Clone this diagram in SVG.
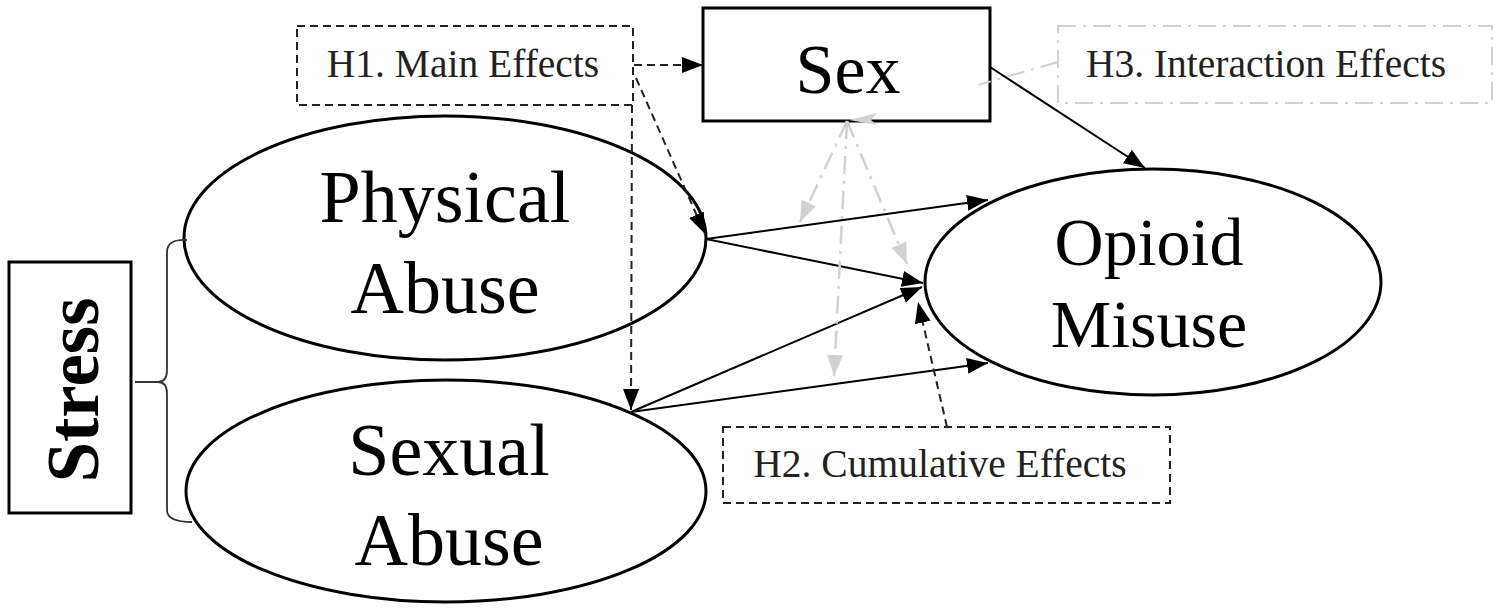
<svg xmlns="http://www.w3.org/2000/svg" width="1500" height="613" viewBox="0 0 1500 613">
<defs>
<style>
.big{font-family:"Liberation Serif","Times New Roman",serif;fill:#000;text-anchor:middle}
.hyp{font-family:"Liberation Serif","Times New Roman",serif;fill:#222;font-size:39.5px;text-anchor:middle}
.node{fill:none;stroke:#000;stroke-width:3}
.hbox{fill:none;stroke:#222;stroke-width:2;stroke-dasharray:8 5}
.gbox{fill:none;stroke:#d2d2d2;stroke-width:2;stroke-dasharray:18 7 3 7}
.solid{fill:none;stroke:#000;stroke-width:2;marker-end:url(#ah)}
.dash{fill:none;stroke:#222;stroke-width:2;stroke-dasharray:8 5;marker-end:url(#ah)}
.gray{fill:none;stroke:#d2d2d2;stroke-width:2.5;stroke-dasharray:18 7 3 7;marker-end:url(#gh)}
</style>
<marker id="ah" markerUnits="userSpaceOnUse" markerWidth="22" markerHeight="18" refX="21" refY="9" orient="auto">
<path d="M0,1 L21,9 L0,17 z" fill="#000"/>
</marker>
<marker id="gh" markerUnits="userSpaceOnUse" markerWidth="22" markerHeight="18" refX="21" refY="9" orient="auto">
<path d="M0,1 L21,9 L0,17 z" fill="#d2d2d2"/>
</marker>
</defs>
<rect width="1500" height="613" fill="#fff"/>

<g id="stress">
<rect class="node" x="9" y="262" width="122" height="251"/>
<text class="big" x="0" y="0" font-size="73" font-weight="bold" transform="translate(98,390) rotate(-90)">Stress</text>
</g>

<g id="physical">
<ellipse class="node" cx="445" cy="238" rx="261" ry="122"/>
<text class="big" x="445" y="222" font-size="74">Physical</text>
<text class="big" x="445" y="313" font-size="74">Abuse</text>
</g>

<g id="sexual">
<ellipse class="node" cx="446" cy="491" rx="260" ry="111"/>
<text class="big" x="449" y="475" font-size="74">Sexual</text>
<text class="big" x="449" y="565" font-size="74">Abuse</text>
</g>

<g id="opioid">
<ellipse class="node" cx="1153" cy="282" rx="228" ry="113"/>
<text class="big" x="1149" y="265" font-size="68">Opioid</text>
<text class="big" x="1149" y="347" font-size="68">Misuse</text>
</g>

<g id="sex">
<rect class="node" x="703" y="8" width="287" height="113"/>
<text class="big" x="848" y="93" font-size="70">Sex</text>
<polygon points="849,120 877,113 871,120 877,125" fill="#d2d2d2"/>
</g>

<g id="h1">
<rect class="hbox" x="297" y="26" width="336" height="79"/>
<text class="hyp" x="463" y="77">H1. Main Effects</text>
</g>

<g id="h2">
<rect class="hbox" x="723" y="427" width="447" height="76"/>
<text class="hyp" x="940" y="477">H2. Cumulative Effects</text>
</g>

<g id="h3">
<rect class="gbox" x="1058" y="26" width="434" height="77"/>
<text class="hyp" x="1266" y="77">H3. Interaction Effects</text>
</g>

<g id="connectors">
<line class="dash" x1="634" y1="65" x2="703" y2="65"/>
<line class="dash" x1="636" y1="78" x2="705" y2="234"/>
<line class="dash" x1="632" y1="105" x2="631" y2="410"/>
<line class="solid" x1="990" y1="67" x2="1145" y2="168"/>
<line class="solid" x1="706" y1="239" x2="988" y2="200"/>
<line class="solid" x1="706" y1="239" x2="923" y2="283"/>
<line class="solid" x1="631" y1="412" x2="922" y2="287"/>
<line class="solid" x1="631" y1="412" x2="988" y2="363"/>
<line class="dash" x1="947" y1="427" x2="918" y2="302"/>
<line fill="none" stroke="#d2d2d2" stroke-width="2" stroke-dasharray="18 7 3 7" x1="1058" y1="62" x2="978" y2="85"/>
<line class="gray" x1="847" y1="121" x2="800" y2="222"/>
<line class="gray" x1="847" y1="121" x2="834" y2="376"/>
<line class="gray" x1="847" y1="121" x2="907" y2="264"/>
<path d="M187,240 Q167,239 167,252 L167,370 Q167,382 158,382 L135,382 M158,382 Q167,382 167,394 L167,510 Q167,522 192,522" fill="none" stroke="#333" stroke-width="1.8"/>
</g>
</svg>
